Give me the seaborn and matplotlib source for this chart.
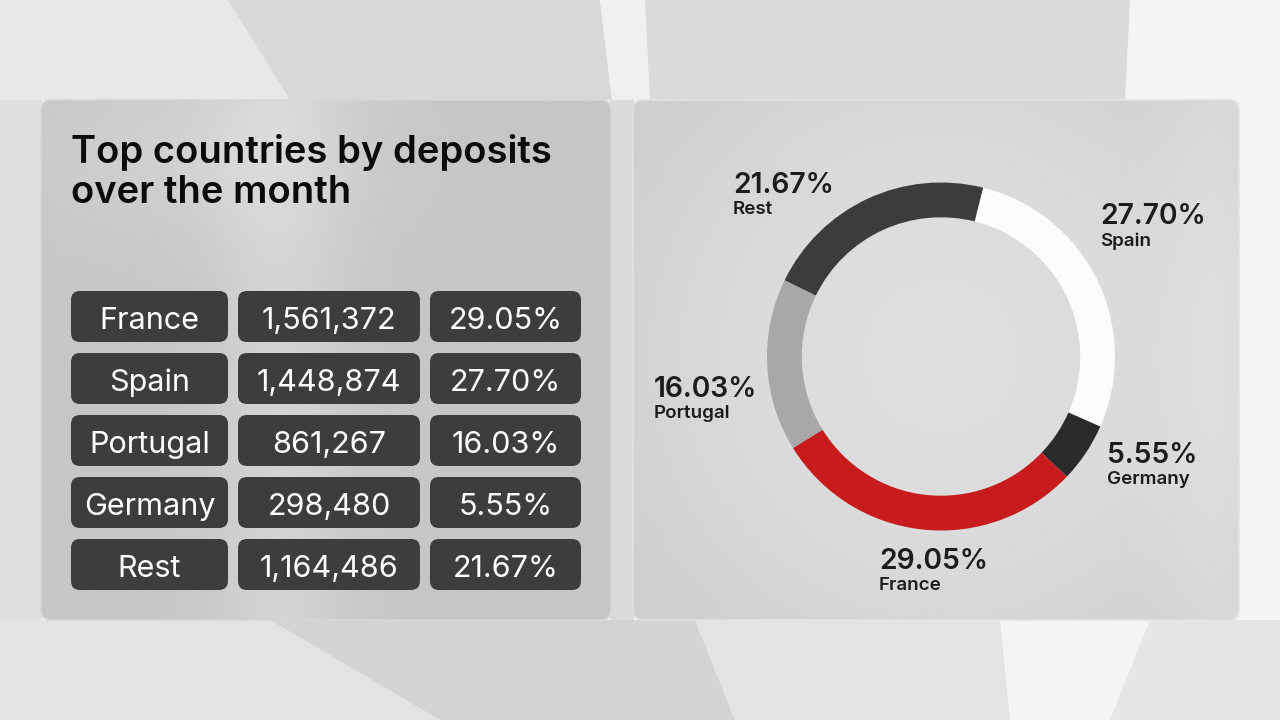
import numpy as np
import matplotlib
matplotlib.use("Agg")
import matplotlib.pyplot as plt
from matplotlib.patches import FancyBboxPatch, Polygon
import seaborn as sns

# ---------------- data ----------------
countries = ["France", "Spain", "Portugal", "Germany", "Rest"]
deposits = [1561372, 1448874, 861267, 298480, 1164486]
shares = [29.05, 27.70, 16.03, 5.55, 21.67]
title_lines = ["Top countries by deposits", "over the month"]

# donut order (clockwise from the top)
donut_order = ["Spain", "Germany", "France", "Portugal", "Rest"]
donut_colors = {"Spain": "#fcfcfc", "Germany": "#2b2b2b", "France": "#c81b1e",
                "Portugal": "#a8a8a8", "Rest": "#3c3c3c"}

# ---------------- style ----------------
sns.set_theme(style="white")
plt.rcParams["font.family"] = ["Inter", "DejaVu Sans"]

W, H = 1280, 720
fig = plt.figure(figsize=(W / 100, H / 100), dpi=100)
fig.patch.set_facecolor("#f4f4f4")

bg = fig.add_axes([0, 0, 1, 1])
bg.set_xlim(0, W)
bg.set_ylim(H, 0)
bg.axis("off")

# background rock-like shapes (decoration)
shapes = [
    ([(0, 0), (228, 0), (290, 100), (0, 100)], "#e8e8e8"),
    ([(228, 0), (600, 0), (612, 100), (290, 100)], "#d8d8d8"),
    ([(600, 0), (645, 0), (650, 100), (612, 100)], "#f0f0f0"),
    ([(645, 0), (1130, 0), (1125, 100), (650, 100)], "#dadada"),
    ([(0, 100), (42, 100), (42, 620), (0, 620)], "#dedede"),
    ([(610, 100), (634, 100), (634, 620), (610, 620)], "#dadada"),
    ([(0, 620), (270, 620), (440, 720), (0, 720)], "#e3e3e3"),
    ([(270, 620), (695, 620), (735, 720), (440, 720)], "#d3d3d3"),
    ([(695, 620), (1000, 620), (1010, 720), (735, 720)], "#e3e3e3"),
    ([(1150, 620), (1280, 620), (1280, 720), (1110, 720)], "#e5e5e5"),
]
for pts, col in shapes:
    bg.add_patch(Polygon(pts, closed=True, facecolor=col, edgecolor="none", zorder=0))


def panel(x0, y0, w, h, shade_fn, edge):
    p = FancyBboxPatch((x0, y0), w, h, boxstyle="round,pad=0,rounding_size=10",
                       facecolor="none", edgecolor=edge, linewidth=1.2, zorder=1.5)
    bg.add_patch(p)
    xs = np.linspace(x0, x0 + w, 300)
    ys = np.linspace(y0, y0 + h, 260)
    X, Y = np.meshgrid(xs, ys)
    Z = shade_fn(X, Y)
    im = bg.imshow(Z, extent=(x0, x0 + w, y0 + h, y0), cmap="gray", vmin=0, vmax=1,
                   origin="upper", zorder=1, interpolation="bilinear")
    im.set_clip_path(p)


def left_shade(X, Y):
    return (0.775 + 0.05 * np.exp(-((X - 280) / 70) ** 2)
            + 0.04 * np.exp(-(((X - 200) / 180) ** 2 + ((Y - 150) / 90) ** 2)))


def right_shade(X, Y):
    r = np.hypot(X - 941, Y - 356) / 260
    return (0.87 - 0.03 * np.clip(r, 0, 1.4) ** 2
            + 0.035 * np.exp(-((X - 1225) / 60) ** 2))


panel(41, 100, 570, 520, left_shade, "#d6d6d6")
panel(633, 100, 606, 520, right_shade, "#e2e2e2")

# title
for k, line in enumerate(title_lines):
    bg.text(71, 163 + 40 * k, line, fontsize=27.5, fontweight="semibold", color="#0b0b0b",
            va="baseline", ha="left", zorder=3)

# table
col_x = [(71, 228), (238, 420), (430, 581)]
row_top0, row_pitch, row_h = 291, 62, 51
for i, (c, d, s) in enumerate(zip(countries, deposits, shares)):
    top = row_top0 + i * row_pitch
    texts = [c, f"{d:,}", f"{s:.2f}%"]
    for (x0, x1), t in zip(col_x, texts):
        bg.add_patch(FancyBboxPatch((x0, top), x1 - x0, row_h,
                                    boxstyle="round,pad=0,rounding_size=9",
                                    facecolor="#3d3d3d", edgecolor="none", zorder=2))
        bg.text((x0 + x1) / 2, top + 38, t, fontsize=22, color="white",
                ha="center", va="baseline", zorder=3)

# donut
cx, cy, R = 941, 356.5, 174
ax = fig.add_axes([(cx - R) / W, (H - cy - R) / H, 2 * R / W, 2 * R / H])
vals = [shares[countries.index(n)] for n in donut_order]
cols = [donut_colors[n] for n in donut_order]
ax.pie(vals, startangle=76, counterclock=False, colors=cols,
       wedgeprops=dict(width=0.2, edgecolor="none", linewidth=0))
ax.set_xlim(-1, 1)
ax.set_ylim(-1, 1)
ax.set_aspect("equal")
ax.axis("off")

# donut labels (layout positions in pixels)
label_pos = {"Rest": (733, 193), "Spain": (1100, 224), "Portugal": (654, 397),
             "Germany": (1107, 463), "France": (879, 569)}
for n in donut_order:
    x, y = label_pos[n]
    s = shares[countries.index(n)]
    bg.text(x, y, f"{s:.2f}%", fontsize=20.3, fontweight="semibold", color="#1c1c1c",
            ha="left", va="baseline", zorder=3)
    bg.text(x, y + 21.5, n, fontsize=13.5, fontweight="semibold", color="#1c1c1c",
            ha="left", va="baseline", zorder=3)

fig.savefig("out.png", dpi=100, facecolor=fig.get_facecolor())
